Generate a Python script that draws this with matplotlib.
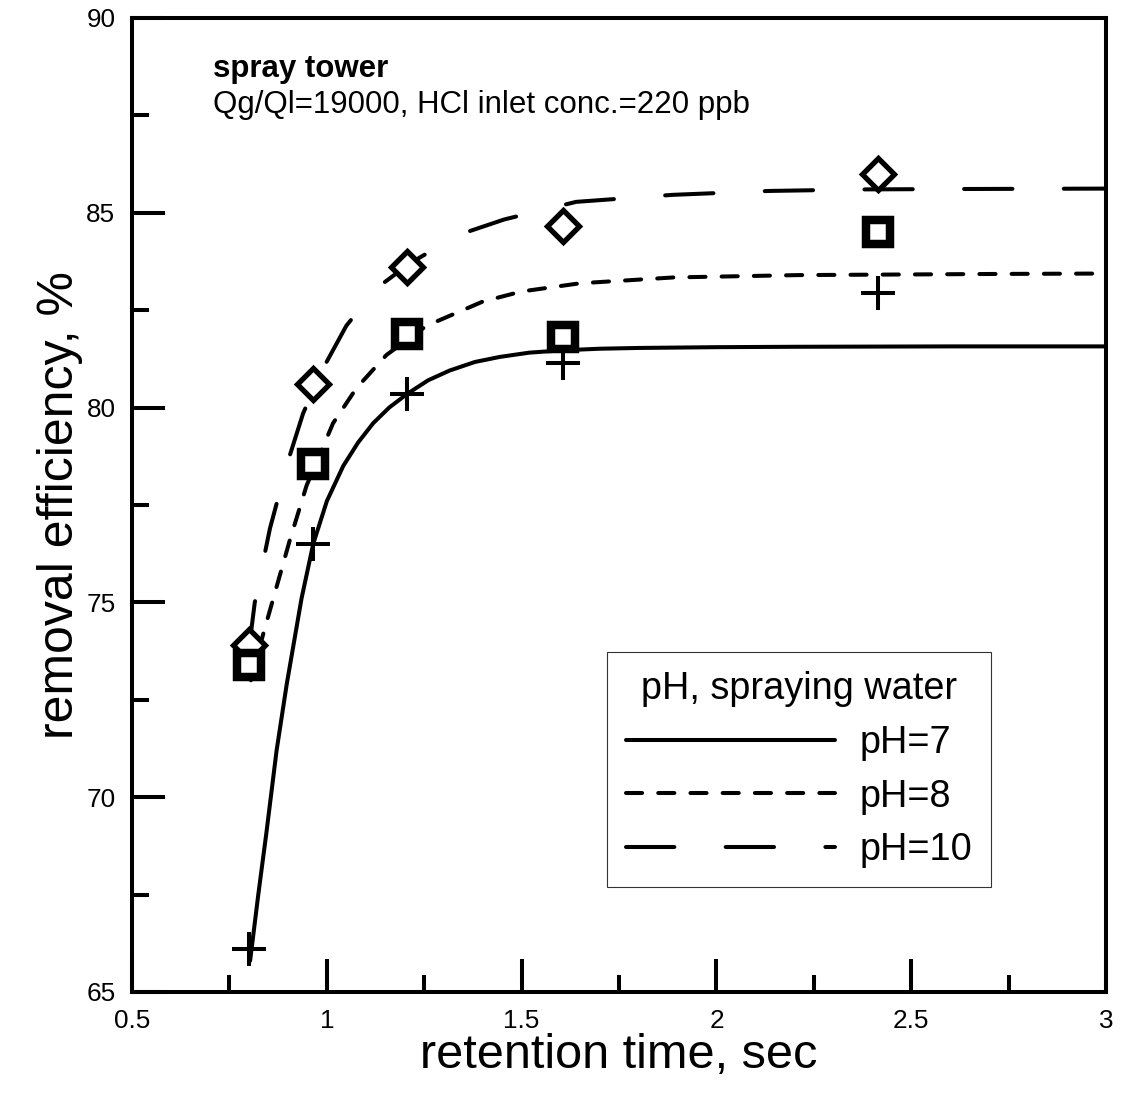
import matplotlib.pyplot as plt
from matplotlib.ticker import MultipleLocator, FixedLocator, FixedFormatter

plt.rcParams['font.family'] = ['Liberation Sans', 'DejaVu Sans']

# measured points
ret_time = [0.8, 0.965, 1.205, 1.605, 2.415]
eff_ph7 = [66.1, 76.5, 80.35, 81.15, 82.95]
eff_ph8 = [73.4, 78.55, 81.9, 81.8, 84.5]
eff_ph10 = [73.9, 80.6, 83.6, 84.65, 86.0]

# fitted curves
fit_t7 = [0.803, 0.824, 0.845, 0.871, 0.897, 0.935, 0.965, 1.0, 1.042, 1.08,
          1.119, 1.16, 1.206, 1.26, 1.315, 1.38, 1.444, 1.52, 1.606, 1.7,
          1.8, 2.0, 2.2, 2.6, 3.0]
fit_ph7 = [65.8, 67.5, 69.1, 71.2, 72.9, 75.1, 76.5, 77.6, 78.5, 79.1,
           79.6, 80.0, 80.35, 80.7, 80.95, 81.17, 81.3, 81.41, 81.47, 81.51,
           81.53, 81.55, 81.56, 81.57, 81.57]

fit_t8 = [0.805, 0.837, 0.871, 0.905, 0.948, 1.016, 1.076, 1.153, 1.256,
          1.4, 1.5, 1.65, 1.89, 2.21, 2.73, 3.0]
fit_ph8 = [73.0, 74.2, 75.4, 76.6, 78.0, 79.6, 80.5, 81.35, 82.1,
           82.72, 82.98, 83.19, 83.34, 83.4, 83.43, 83.44]

fit_t10 = [0.8, 0.815, 0.854, 0.901, 0.939, 0.99, 1.05, 1.127, 1.213, 1.337,
           1.456, 1.64, 1.888, 2.136, 2.384, 2.64, 3.0]
fit_ph10 = [73.8, 75.0, 76.9, 78.65, 79.85, 81.0, 82.1, 83.06, 83.7, 84.43,
            84.83, 85.28, 85.46, 85.56, 85.6, 85.61, 85.62]

xtick_vals = [0.5, 1, 1.5, 2, 2.5, 3]
xtick_labels = ['0.5', '1', '1.5', '2', '2.5', '3']

fig = plt.figure(figsize=(11.21, 10.95), dpi=100)
ax = fig.add_axes([0.1178, 0.0941, 0.8689, 0.8895])

ax.plot(fit_t7, fit_ph7, color='black', lw=2.9, solid_capstyle='round', label='pH=7')
ax.plot(fit_t8, fit_ph8, color='black', lw=2.9, dashes=(4, 4),
        dash_capstyle='round', label='pH=8')
ax.plot(fit_t10, fit_ph10, color='black', lw=2.9, dashes=(12, 12.75),
        dash_capstyle='round', label='pH=10')

ax.plot(ret_time, eff_ph10, ls='none', marker='D', ms=16, mew=3.8,
        mfc='white', mec='black', zorder=3)
ax.plot(ret_time, eff_ph8, ls='none', marker='s', ms=17.6, mew=6.1,
        mfc='white', mec='black', zorder=4)
ax.plot(ret_time, eff_ph7, ls='none', marker='+', ms=23.8, mew=2.9,
        color='black', zorder=5)

ax.set_xlim(0.5, 3)
ax.set_ylim(65, 90)
ax.xaxis.set_major_locator(FixedLocator(xtick_vals))
ax.xaxis.set_major_formatter(FixedFormatter(xtick_labels))
ax.xaxis.set_minor_locator(MultipleLocator(0.25))
ax.yaxis.set_major_locator(MultipleLocator(5))
ax.yaxis.set_minor_locator(MultipleLocator(2.5))
ax.tick_params(which='major', direction='in', length=23.8, width=2.9,
               labelsize=18.8, pad=12, top=False, right=False)
ax.tick_params(which='minor', direction='in', length=12.2, width=2.9,
               top=False, right=False)
for s in ax.spines.values():
    s.set_linewidth(2.9)

ax.set_xlabel('retention time, sec', fontsize=35, labelpad=0)
ax.set_ylabel('removal efficiency, %', fontsize=36, labelpad=2)

ax.text(0.083, 0.9394, 'spray tower', fontsize=22.5, fontweight='bold',
        transform=ax.transAxes, va='baseline')
ax.text(0.083, 0.9025, 'Qg/Ql=19000, HCl inlet conc.=220 ppb', fontsize=22.5,
        transform=ax.transAxes, va='baseline')

leg = ax.legend(title='pH, spraying water', loc='upper left',
                bbox_to_anchor=(0.4877, 0.349), borderaxespad=0,
                fontsize=27.3, title_fontsize=27.3, fancybox=False,
                edgecolor='black', handlelength=5.5, handletextpad=0.65,
                borderpad=0.5, labelspacing=0.47)
leg.get_frame().set_linewidth(0.8)

plt.savefig('out.png', dpi=100)
